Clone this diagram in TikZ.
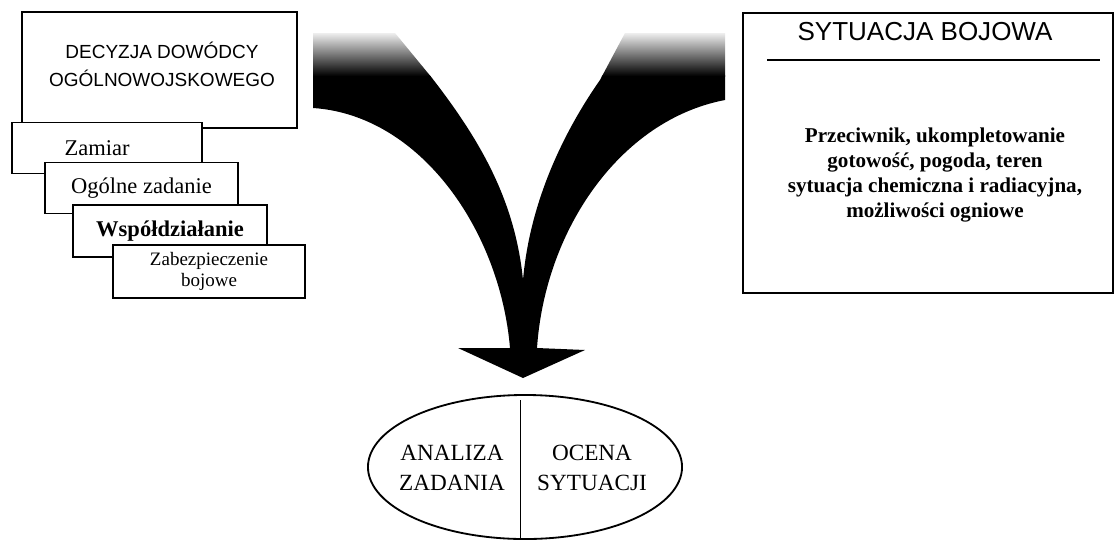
\documentclass[tikz,border=0pt]{standalone}
\usepackage{fontspec}
\setmainfont{Liberation Serif}
\setsansfont{Liberation Sans}
\usetikzlibrary{shapes.geometric}

\begin{document}
\begin{tikzpicture}[
  x=0.025cm, y=-0.025cm,
  boxframe/.style={draw, fill=white, line width=1.2pt},
  tab/.style={boxframe, minimum width=4.8cm, minimum height=1.27cm, inner sep=0pt, font=\fontsize{16}{19}\selectfont},
  head/.style={font=\sffamily\fontsize{13.5}{20}\selectfont, align=center},
  oval/.style={draw, ellipse, line width=1.3pt, minimum width=7.85cm, minimum height=3.6cm},
  ovaltext/.style={align=center, font=\fontsize{16.5}{21}\selectfont}
]
\useasboundingbox (0,0) rectangle (1115,540);

% decision of the commander and its parts
\node[boxframe, minimum width=6.875cm, minimum height=2.9cm] (decyzja) at (159.5,70) {};
\node[head] (decyzjatxt) at (162,64) {DECYZJA DOWÓDCY\\OGÓLNOWOJSKOWEGO};
\node[tab, minimum width=4.75cm] (zamiar) at (107,148) {Zamiar\hspace*{14pt}};
\node[tab, minimum width=4.825cm] (zadanie) at (141.5,188) {Ogólne zadanie};
\node[tab, minimum width=4.85cm, minimum height=1.3cm, font=\fontsize{16}{19}\selectfont\bfseries] (wspol) at (170,231) {Współdziałanie};
\node[tab, minimum height=1.325cm, align=center, font=\fontsize{13.5}{15.5}\selectfont] (zabezp) at (209,271.5) {Zabezpieczenie\\bojowe};

% combat situation
\node[boxframe, minimum width=9.25cm, minimum height=7cm] (sytuacja) at (928,153) {};
\node[font=\sffamily\fontsize{18.5}{20}\selectfont] (tytul) at (925,32) {SYTUACJA BOJOWA};
\draw[line width=1pt] (767,60) -- (1100,60);
\node[align=center, font=\bfseries\fontsize{15}{18}\selectfont] (czynniki) at (935,175) {Przeciwnik, ukompletowanie\\gotowość, pogoda, teren\\sytuacja chemiczna i radiacyjna,\\możliwości ogniowe};

% merging arrow
\begin{scope}
  \clip (313,33) -- (395,33) -- (432,78)
    .. controls (480,140) and (515,200) .. (523,280)
    .. controls (530,200) and (565,130) .. (600,80)
    -- (625,33) -- (725,33) -- (725,100)
    .. controls (620,120) and (545,230) .. (537,348)
    -- (585,350) -- (523,378) -- (458,348) -- (510,348)
    .. controls (500,230) and (420,115) .. (313,108) -- cycle;
  \fill[black] (300,75) rectangle (740,390);
  \shade[top color=white, bottom color=black] (300,30) rectangle (740,76);
\end{scope}

% analysis and assessment
\node[oval] (ocena) at (525,467) {};
\draw[line width=0.7pt] (520,400) -- (520,540);
\node[ovaltext] (analizatxt) at (452,468) {ANALIZA\\ZADANIA};
\node[ovaltext] (ocenatxt) at (592,468) {OCENA\\SYTUACJI};
\end{tikzpicture}
\end{document}
